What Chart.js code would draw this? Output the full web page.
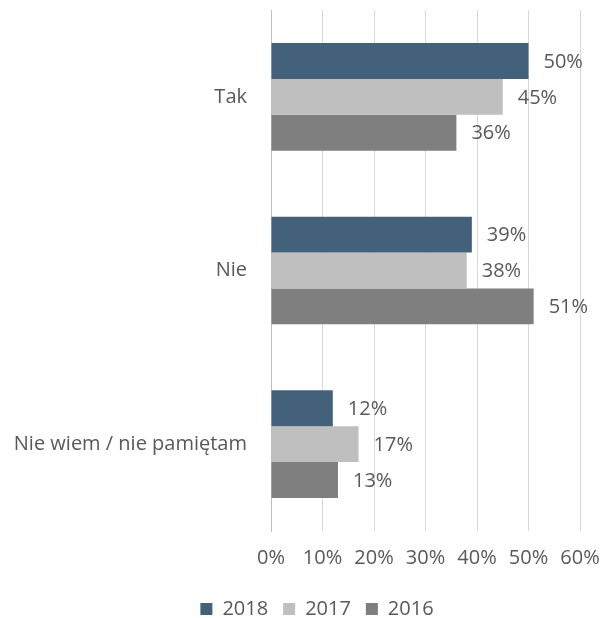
<!DOCTYPE html>
<html><head><meta charset="utf-8">
<script src="https://cdn.jsdelivr.net/npm/chart.js@4/dist/chart.umd.min.js"></script>
<style>html,body{margin:0;padding:0;background:#fff;}canvas{display:block;}</style>
</head><body>
<canvas id="c" width="604" height="618" style="width:604px;height:618px"></canvas>
<script>
const categories = ["Tak", "Nie", "Nie wiem / nie pamiętam"];
const seriesNames = ["2018", "2017", "2016"];
const values2018 = [50, 39, 12];
const values2017 = [45, 38, 17];
const values2016 = [36, 51, 13];
const xTicks = [0, 10, 20, 30, 40, 50, 60];
const colors = ["#44617B", "#BFBFBF", "#7F7F7F"];

const FONT = "'Open Sans', 'Noto Sans', sans-serif";
const TXT = "#595959";
const FS = 20;

const labelPlugin = {
  id: 'barLabels',
  afterLayout(chart) {
    if (chart.legend) { chart.legend.left += 27; chart.legend.right += 27; }
  },
  afterDatasetsDraw(chart) {
    const ctx = chart.ctx;
    ctx.save();
    ctx.font = FS + "px " + FONT;
    ctx.fillStyle = TXT;
    ctx.textAlign = 'left';
    ctx.textBaseline = 'middle';
    chart.data.datasets.forEach((ds, i) => {
      const meta = chart.getDatasetMeta(i);
      meta.data.forEach((el, j) => {
        ctx.fillText(ds.data[j] + '%', el.x + 15, el.y + 1);
      });
    });
    ctx.restore();
  }
};

new Chart(document.getElementById('c'), {
  type: 'bar',
  data: {
    labels: categories,
    datasets: [
      { label: seriesNames[0], data: values2018, backgroundColor: colors[0] },
      { label: seriesNames[1], data: values2017, backgroundColor: colors[1] },
      { label: seriesNames[2], data: values2016, backgroundColor: colors[2] }
    ]
  },
  options: {
    indexAxis: 'y',
    responsive: false,
    animation: false,
    devicePixelRatio: 1,
    categoryPercentage: 0.62,
    barPercentage: 1.0,
    layout: { padding: { top: 10, right: 24, left: 0, bottom: -11 } },
    scales: {
      x: {
        min: 0, max: 60,
        afterBuildTicks(scale) { scale.ticks = xTicks.map(v => ({ value: v })); },
        ticks: {
          callback: v => v + '%',
          color: TXT,
          font: { family: FONT, size: FS },
          padding: 15,
          maxRotation: 0
        },
        grid: { color: '#D9D9D9', drawTicks: false, lineWidth: 1 },
        border: { display: false },
        afterFit(scale) { scale.height = 53; scale.paddingLeft = 0; scale.paddingRight = 0; }
      },
      y: {
        ticks: {
          color: TXT,
          font: { family: FONT, size: FS },
          padding: 24
        },
        grid: { display: false, drawTicks: false },
        border: { color: '#BFBFBF', width: 1 },
        afterFit(scale) { scale.width = 271; scale.paddingTop = 0; scale.paddingBottom = 0; }
      }
    },
    plugins: {
      legend: {
        position: 'bottom',
        labels: {
          color: TXT,
          font: { family: FONT, size: FS, lineHeight: 1 },
          boxWidth: 12,
          boxHeight: 12,
          padding: 15
        }
      },
      tooltip: { enabled: false }
    }
  },
  plugins: [labelPlugin]
});
</script>
</body></html>
